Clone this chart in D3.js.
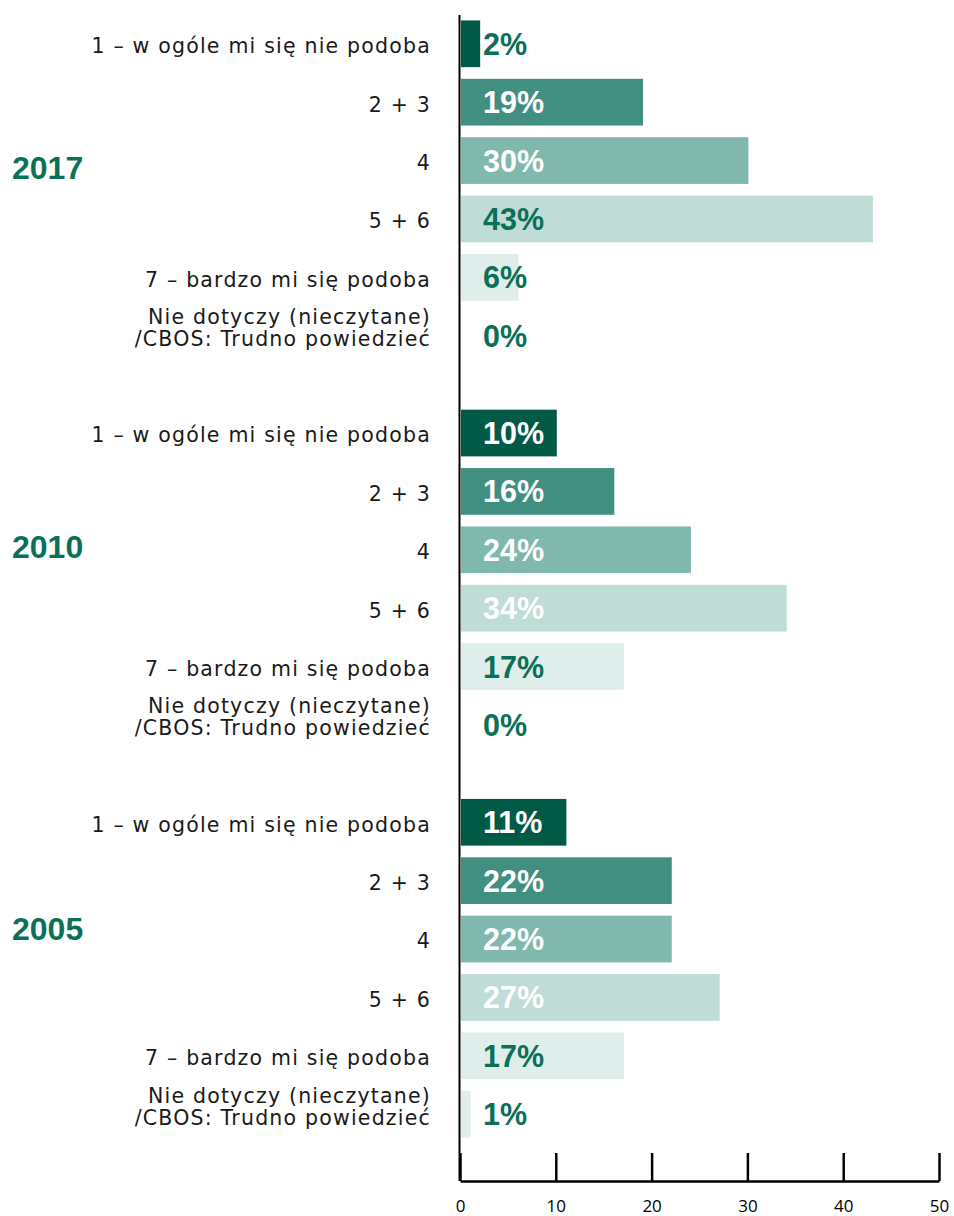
<!DOCTYPE html>
<html>
<head>
<meta charset="utf-8">
<script src="https://cdn.jsdelivr.net/npm/d3@7"></script>
<style>
  html, body { margin: 0; padding: 0; background: #fff; }
  svg { display: block; }
</style>
</head>
<body>
<svg id="chart" width="954" height="1216"></svg>
<script>
// ---------------- DATA ----------------
const years = ["2017", "2010", "2005"];
const categories = [
  "1 – w ogóle mi się nie podoba",
  "2 + 3",
  "4",
  "5 + 6",
  "7 – bardzo mi się podoba",
  "Nie dotyczy (nieczytane)\n/CBOS: Trudno powiedzieć"
];
const values2017 = [2, 19, 30, 43, 6, 0];
const values2010 = [10, 16, 24, 34, 17, 0];
const values2005 = [11, 22, 22, 27, 17, 1];
const xTicks = [0, 10, 20, 30, 40, 50];

// label on-bar colour choice (white vs green) per year
const whiteLabel2017 = [false, true, true, false, false, false];
const whiteLabel2010 = [true, true, true, true, false, false];
const whiteLabel2005 = [true, true, true, true, false, false];

// ---------------- STYLE ----------------
const barColors = ["#015a46", "#418f80", "#80b8ae", "#c0dcd6", "#e0eeeb"];
const green = "#0b7058";
const yearOffsets = [153, 143, 135];

const seriesByYear = { "2017": values2017, "2010": values2010, "2005": values2005 };
const whiteByYear = { "2017": whiteLabel2017, "2010": whiteLabel2010, "2005": whiteLabel2005 };

const svg = d3.select("#chart");

const x = d3.scaleLinear().domain([0, 50]).range([460, 939]);

const yGroup = d3.scaleBand().domain(years).range([14.6, 1143.4]).paddingInner(0.1).paddingOuter(0);
const yRow = d3.scaleBand().domain(categories).range([0, yGroup.bandwidth()]).paddingInner(0.2).paddingOuter(0.1);

const rows = [];
years.forEach(yr => {
  categories.forEach((c, i) => {
    rows.push({ year: yr, cat: c, idx: i, value: seriesByYear[yr][i], white: whiteByYear[yr][i] });
  });
});

// bars
svg.append("g").selectAll("rect").data(rows.filter(d => d.value > 0)).join("rect")
  .attr("x", x(0) + 1)
  .attr("y", d => yGroup(d.year) + yRow(d.cat))
  .attr("width", d => x(d.value) - x(0))
  .attr("height", yRow.bandwidth())
  .attr("fill", d => barColors[Math.min(d.idx, barColors.length - 1)]);

// value labels
svg.append("g").selectAll("text").data(rows).join("text")
  .attr("x", x(0) + 23)
  .attr("y", d => yGroup(d.year) + yRow(d.cat) + yRow.bandwidth() / 2)
  .attr("dy", "0.36em")
  .attr("font-family", "'Liberation Sans', Arial, sans-serif")
  .attr("font-weight", "bold")
  .attr("font-size", 30.5)
  .attr("fill", d => d.white ? "#ffffff" : green)
  .text(d => d.value + "%");

// category labels
const catG = svg.append("g");
rows.forEach(d => {
  const lines = d.cat.split("\n");
  const cy = yGroup(d.year) + yRow(d.cat) + yRow.bandwidth() / 2;
  const offsets = lines.length > 1 ? [-19, 3] : [2];
  lines.forEach((ln, k) => {
    catG.append("text")
      .attr("text-anchor", "end")
      .attr("font-family", "'DejaVu Sans', sans-serif")
      .attr("font-size", 20.5)
      .attr("letter-spacing", "1.2px")
      .attr("fill", "#1a1a1a")
      .attr("x", 431)
      .attr("y", cy + offsets[k])
      .attr("dy", "0.36em")
      .text(ln);
  });
});

// year labels
svg.append("g").selectAll("text").data(years).join("text")
  .attr("x", 12)
  .attr("y", (d, i) => yGroup(d) + yearOffsets[i])
  .attr("dy", "0.36em")
  .attr("font-family", "'Liberation Sans', Arial, sans-serif")
  .attr("font-weight", "bold")
  .attr("font-size", 32)
  .attr("fill", green)
  .text(d => d);

// vertical axis line
svg.append("line")
  .attr("x1", 459.5).attr("x2", 459.5)
  .attr("y1", 15).attr("y2", 1181)
  .attr("stroke", "#000").attr("stroke-width", 2);

// bottom axis
const axis = d3.axisBottom(x).tickValues(xTicks).tickSize(-28).tickSizeOuter(0).tickPadding(0);
const ag = svg.append("g").attr("transform", "translate(0,1181)").call(axis);
ag.select(".domain").attr("stroke", "#000").attr("stroke-width", 2.5);
ag.selectAll(".tick line").attr("stroke", "#000").attr("stroke-width", 2.5);
ag.selectAll(".tick text")
  .attr("y", 25)
  .attr("dy", "0.35em")
  .attr("font-family", "'Open Sans', sans-serif")
  .attr("font-size", 17)
  .attr("fill", "#000");
</script>
</body>
</html>
